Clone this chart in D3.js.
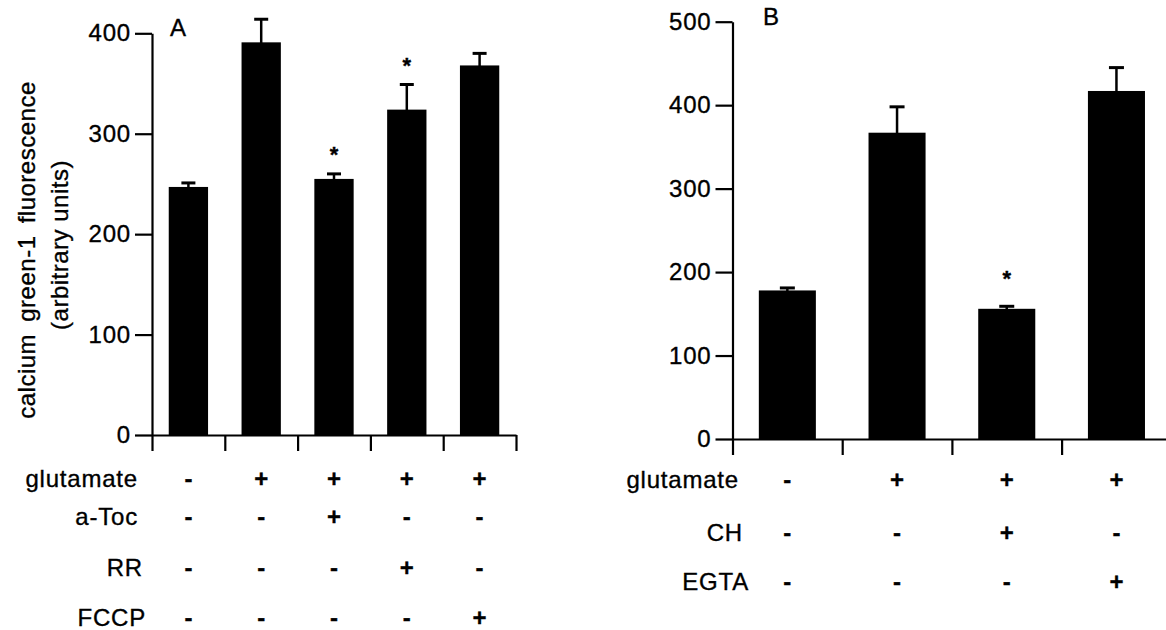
<!DOCTYPE html>
<html>
<head>
<meta charset="utf-8">
<script src="https://cdn.jsdelivr.net/npm/d3@7"></script>
<style>
  html, body { margin: 0; padding: 0; background: #fff; }
  svg { display: block; }
  text { font-family: "Liberation Sans", Arial, sans-serif; fill: #000; stroke: #000; stroke-width: 0.35px; }
</style>
</head>
<body>
<script>
// ---------------- DATA ----------------
const conditionsA = ["c1", "c2", "c3", "c4", "c5"];
const valuesA = [247, 391, 255, 324, 368];
const errorsA = [4, 23, 5, 25, 12];
const starsA = [false, false, true, true, false];
const yTicksA = [0, 100, 200, 300, 400];
const rowLabelsA = ["glutamate", "a-Toc", "RR", "FCCP"];
const signsA = [
  ["-", "+", "+", "+", "+"],
  ["-", "-", "+", "-", "-"],
  ["-", "-", "-", "+", "-"],
  ["-", "-", "-", "-", "+"]
];

const conditionsB = ["c1", "c2", "c3", "c4"];
const valuesB = [178, 367, 156, 417];
const errorsB = [3, 31, 3, 28];
const starsB = [false, false, true, false];
const yTicksB = [0, 100, 200, 300, 400, 500];
const rowLabelsB = ["glutamate", "CH", "EGTA"];
const signsB = [
  ["-", "+", "+", "+"],
  ["-", "-", "+", "-"],
  ["-", "-", "-", "+"]
];

const yTitle1 = "calcium green-1 fluorescence";
const yTitle2 = "(arbitrary units)";

// ---------------- LAYOUT ----------------
const svg = d3.select("body").append("svg")
  .attr("width", 1166).attr("height", 630);

function drawPanel(p) {
  const g = svg.append("g");
  const n = p.cats.length;
  const x = d3.scaleBand().domain(p.cats)
    .range([p.x0, p.x1]).paddingInner(p.pad).paddingOuter(p.pad / 2);
  const y = d3.scaleLinear().domain([0, p.ymax]).range([p.yBottom, p.yTop]);
  const xi = d3.scaleLinear().domain([0, n]).range([p.x0, p.x1]);
  const cx = i => x(p.cats[i]) + x.bandwidth() / 2;

  // bars
  g.selectAll("rect.bar").data(p.cats).join("rect")
    .attr("class", "bar")
    .attr("x", d => x(d))
    .attr("width", x.bandwidth())
    .attr("y", (d, i) => y(p.vals[i]))
    .attr("height", (d, i) => y(0) - y(p.vals[i]))
    .attr("fill", "#000");

  // error bars (upper only)
  const eg = g.selectAll("g.err").data(p.cats).join("g").attr("class", "err");
  eg.append("line")
    .attr("x1", (d, i) => cx(i))
    .attr("x2", (d, i) => cx(i))
    .attr("y1", (d, i) => y(p.vals[i]) + 1)
    .attr("y2", (d, i) => y(p.vals[i] + p.errs[i]))
    .attr("stroke", "#000").attr("stroke-width", 2.5);
  eg.append("line")
    .attr("x1", (d, i) => cx(i) - p.cap / 2)
    .attr("x2", (d, i) => cx(i) + p.cap / 2)
    .attr("y1", (d, i) => y(p.vals[i] + p.errs[i]))
    .attr("y2", (d, i) => y(p.vals[i] + p.errs[i]))
    .attr("stroke", "#000").attr("stroke-width", 3);

  // significance stars
  const starIdx = d3.range(n).filter(i => p.stars[i]);
  g.selectAll("text.star").data(starIdx).join("text")
    .attr("class", "star")
    .attr("x", i => cx(i))
    .attr("y", i => y(p.vals[i] + p.errs[i]) - p.starOff + 13)
    .attr("text-anchor", "middle")
    .style("font-size", "22px").style("font-weight", "bold")
    .text("*");

  // y axis
  const ya = g.append("g").attr("transform", `translate(${p.x0},0)`)
    .call(d3.axisLeft(y).tickValues(p.yTicks).tickSize(17).tickPadding(4).tickSizeOuter(0));
  ya.selectAll("path, line").attr("stroke", "#000").attr("stroke-width", 2.2);
  ya.selectAll("text").style("font-size", "24px").style("letter-spacing", "0.8px")
    .attr("fill", "#000");

  // x axis with ticks at category boundaries
  const xa = g.append("g").attr("transform", `translate(0,${p.yBottom})`)
    .call(d3.axisBottom(xi).tickValues(d3.range(n + 1)).tickFormat("").tickSize(16).tickSizeOuter(0));
  xa.selectAll("path, line").attr("stroke", "#000").attr("stroke-width", 2.2);

  // panel letter
  g.append("text").attr("x", p.letterX).attr("y", p.letterY)
    .style("font-size", "24px").text(p.letter);

  // condition table
  p.rowLabels.forEach((lab, r) => {
    g.append("text")
      .attr("x", p.labelX[r]).attr("y", p.rowY[r])
      .attr("text-anchor", "end")
      .style("font-size", "24px").style("letter-spacing", "0.8px")
      .text(lab);
    g.selectAll(null).data(p.signs[r]).join("text")
      .attr("x", (d, i) => cx(i))
      .attr("y", p.rowY[r])
      .attr("text-anchor", "middle")
      .style("font-size", "24px").style("font-weight", "bold")
      .text(d => d);
  });
}

drawPanel({
  cats: conditionsA, vals: valuesA, errs: errorsA, stars: starsA, yTicks: yTicksA, ymax: 400,
  rowLabels: rowLabelsA, signs: signsA,
  x0: 152, x1: 516, yBottom: 435, yTop: 33.3, pad: 0.46, cap: 14, starOff: 24.5,
  letter: "A", letterX: 170, letterY: 36,
  labelX: [138, 138, 143, 146], rowY: [487, 525, 576, 626]
});

drawPanel({
  cats: conditionsB, vals: valuesB, errs: errorsB, stars: starsB, yTicks: yTicksB, ymax: 500,
  rowLabels: rowLabelsB, signs: signsB,
  x0: 732.5, x1: 1171.3, yBottom: 439, yTop: 21.7, pad: 0.48, cap: 15, starOff: 33,
  letter: "B", letterX: 763, letterY: 25,
  labelX: [739, 743, 749], rowY: [488, 541, 590]
});

// y-axis title (panel A)
svg.append("text")
  .attr("transform", "translate(35,250) rotate(-90)")
  .attr("text-anchor", "middle")
  .style("font-size", "24px").style("letter-spacing", "0.5px").style("word-spacing", "5px")
  .text(yTitle1);
svg.append("text")
  .attr("transform", "translate(68,245) rotate(-90)")
  .attr("text-anchor", "middle")
  .style("font-size", "24px").style("letter-spacing", "0.5px")
  .text(yTitle2);
</script>
</body>
</html>
